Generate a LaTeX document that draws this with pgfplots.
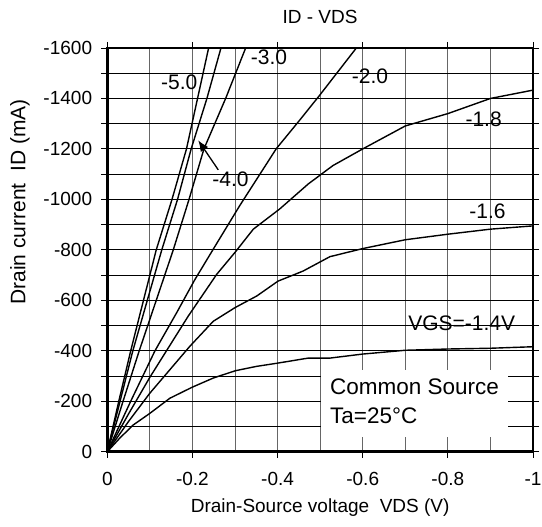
\documentclass[border=0pt]{standalone}
\usepackage{fontspec}
\setmainfont{Liberation Sans}
\usepackage{pgfplots}
\pgfplotsset{compat=1.18}
\usetikzlibrary{arrows.meta}
\newcommand{\fsT}{\fontsize{19bp}{23bp}\selectfont}
\newcommand{\fsY}{\fontsize{21bp}{25bp}\selectfont}
\newcommand{\fsL}{\fontsize{21bp}{25bp}\selectfont}
\newcommand{\fsB}{\fontsize{22.5bp}{27bp}\selectfont}
\begin{document}
\begin{tikzpicture}[x=1bp,y=1bp]
\useasboundingbox (0,0) rectangle (542,527);
\node[font=\fsT, anchor=center] at (320,510) {ID - VDS};
\begin{axis}[
  at={(107.3bp,75.3bp)}, anchor=south west,
  width=425.7bp, height=403.7bp, scale only axis,
  xmin=-1, xmax=0, ymin=-1600, ymax=0,
  x dir=reverse, y dir=reverse,
  xtick={0,-0.2,-0.4,-0.6,-0.8,-1},
  xticklabels={0,-0.2,-0.4,-0.6,-0.8,-1},
  minor xtick={-0.1,-0.3,-0.5,-0.7,-0.9},
  ytick={0,-100,...,-1600},
  yticklabels={0,,-200,,-400,,-600,,-800,,-1000,,-1200,,-1400,,-1600},
  tick align=outside,
  major tick length=6bp, minor tick length=0pt,
  tick style={black, line width=0.9bp},
  grid=both,
  major x grid style={black!60, line width=0.9bp},
  minor x grid style={black!60, line width=0.9bp},
  major y grid style={black, line width=0.9bp},
  axis line style={black, line width=2.8bp},
  ticklabel style={font=\fsT},
  xticklabel style={anchor=center, yshift=-21bp},
  yticklabel style={anchor=east, inner sep=0pt, xshift=-9bp},
  xlabel={Drain-Source voltage\ \ VDS (V)},
  xlabel style={at={(axis description cs:0.5,-0.1395)}, anchor=center, font=\fsT},
  ylabel={Drain current\ \ ID (mA)},
  ylabel style={at={(axis description cs:-0.205,0.6185)}, anchor=center, font=\fsY},
  clip=false,
]
\fill[white] (axis cs:-0.503,-60) rectangle (axis cs:-0.941,-325);
% VGS = -5.0
\addplot[black, line width=1.4bp, mark=none] coordinates {(0,0) (-0.027,-200) (-0.055,-400) (-0.085,-600) (-0.115,-800) (-0.152,-1000) (-0.186,-1200) (-0.212,-1400) (-0.238,-1600)};
% VGS = -4.0
\addplot[black, line width=1.4bp, mark=none] coordinates {(0,0) (-0.030,-200) (-0.060,-400) (-0.094,-600) (-0.128,-800) (-0.165,-1000) (-0.197,-1200) (-0.234,-1400) (-0.267,-1600)};
% VGS = -3.0
\addplot[black, line width=1.4bp, mark=none] coordinates {(0,0) (-0.037,-200) (-0.075,-400) (-0.115,-600) (-0.155,-800) (-0.192,-1000) (-0.227,-1200) (-0.278,-1400) (-0.325,-1600)};
% VGS = -2.0
\addplot[black, line width=1.4bp, mark=none] coordinates {(0,0) (-0.055,-200) (-0.112,-400) (-0.163,-551) (-0.205,-680) (-0.249,-803) (-0.311,-975) (-0.397,-1201) (-0.450,-1310) (-0.499,-1413) (-0.585,-1600)};
% VGS = -1.8
\addplot[black, line width=1.4bp, mark=none] coordinates {(0,0) (-0.05,-150) (-0.1,-295) (-0.19,-537) (-0.257,-703) (-0.30,-790) (-0.343,-882) (-0.405,-962) (-0.472,-1061) (-0.53,-1134) (-0.60,-1200) (-0.70,-1291) (-0.80,-1340) (-0.90,-1400) (-1.0,-1433)};
% VGS = -1.6
\addplot[black, line width=1.4bp, mark=none] coordinates {(0,0) (-0.05,-120) (-0.1,-232) (-0.194,-418) (-0.249,-517) (-0.30,-571) (-0.351,-617) (-0.401,-676) (-0.46,-716) (-0.523,-773) (-0.60,-805) (-0.70,-840) (-0.80,-862) (-0.90,-882) (-1.0,-895)};
% VGS = -1.4
\addplot[black, line width=1.4bp, mark=none] coordinates {(0,0) (-0.03,-55) (-0.061,-106) (-0.1,-152) (-0.147,-212) (-0.2,-256) (-0.249,-292) (-0.301,-321) (-0.35,-338) (-0.40,-351) (-0.472,-371) (-0.523,-371) (-0.60,-387) (-0.70,-402) (-0.80,-407) (-0.90,-410) (-1.0,-416)};
\node[font=\fsL, inner sep=0pt] at (axis cs:-0.169,-1463) {-5.0};
\node[font=\fsL, inner sep=0pt] at (axis cs:-0.380,-1562) {-3.0};
\node[font=\fsL, inner sep=0pt] at (axis cs:-0.617,-1486) {-2.0};
\node[font=\fsL, inner sep=0pt] at (axis cs:-0.884,-1319) {-1.8};
\node[font=\fsL, inner sep=0pt] at (axis cs:-0.893,-954) {-1.6};
\node[font=\fsL, inner sep=0pt] at (axis cs:-0.8325,-508) {VGS=-1.4V};
\node[font=\fsL, inner sep=0pt] at (axis cs:-0.2894,-1081) {-4.0};
\draw[-{Latex[length=11bp,width=9bp]}, black, line width=1.3bp] (axis cs:-0.2607,-1117) -- (axis cs:-0.2136,-1234);
\node[font=\fsB, inner sep=0pt, anchor=base west] at (axis cs:-0.523,-226) {Common Source};
\node[font=\fsB, inner sep=0pt, anchor=base west] at (axis cs:-0.523,-113) {Ta=25°C};
\draw[black, line width=2.8bp] (rel axis cs:0,0) rectangle (rel axis cs:1,1);
\end{axis}
\end{tikzpicture}
\end{document}
